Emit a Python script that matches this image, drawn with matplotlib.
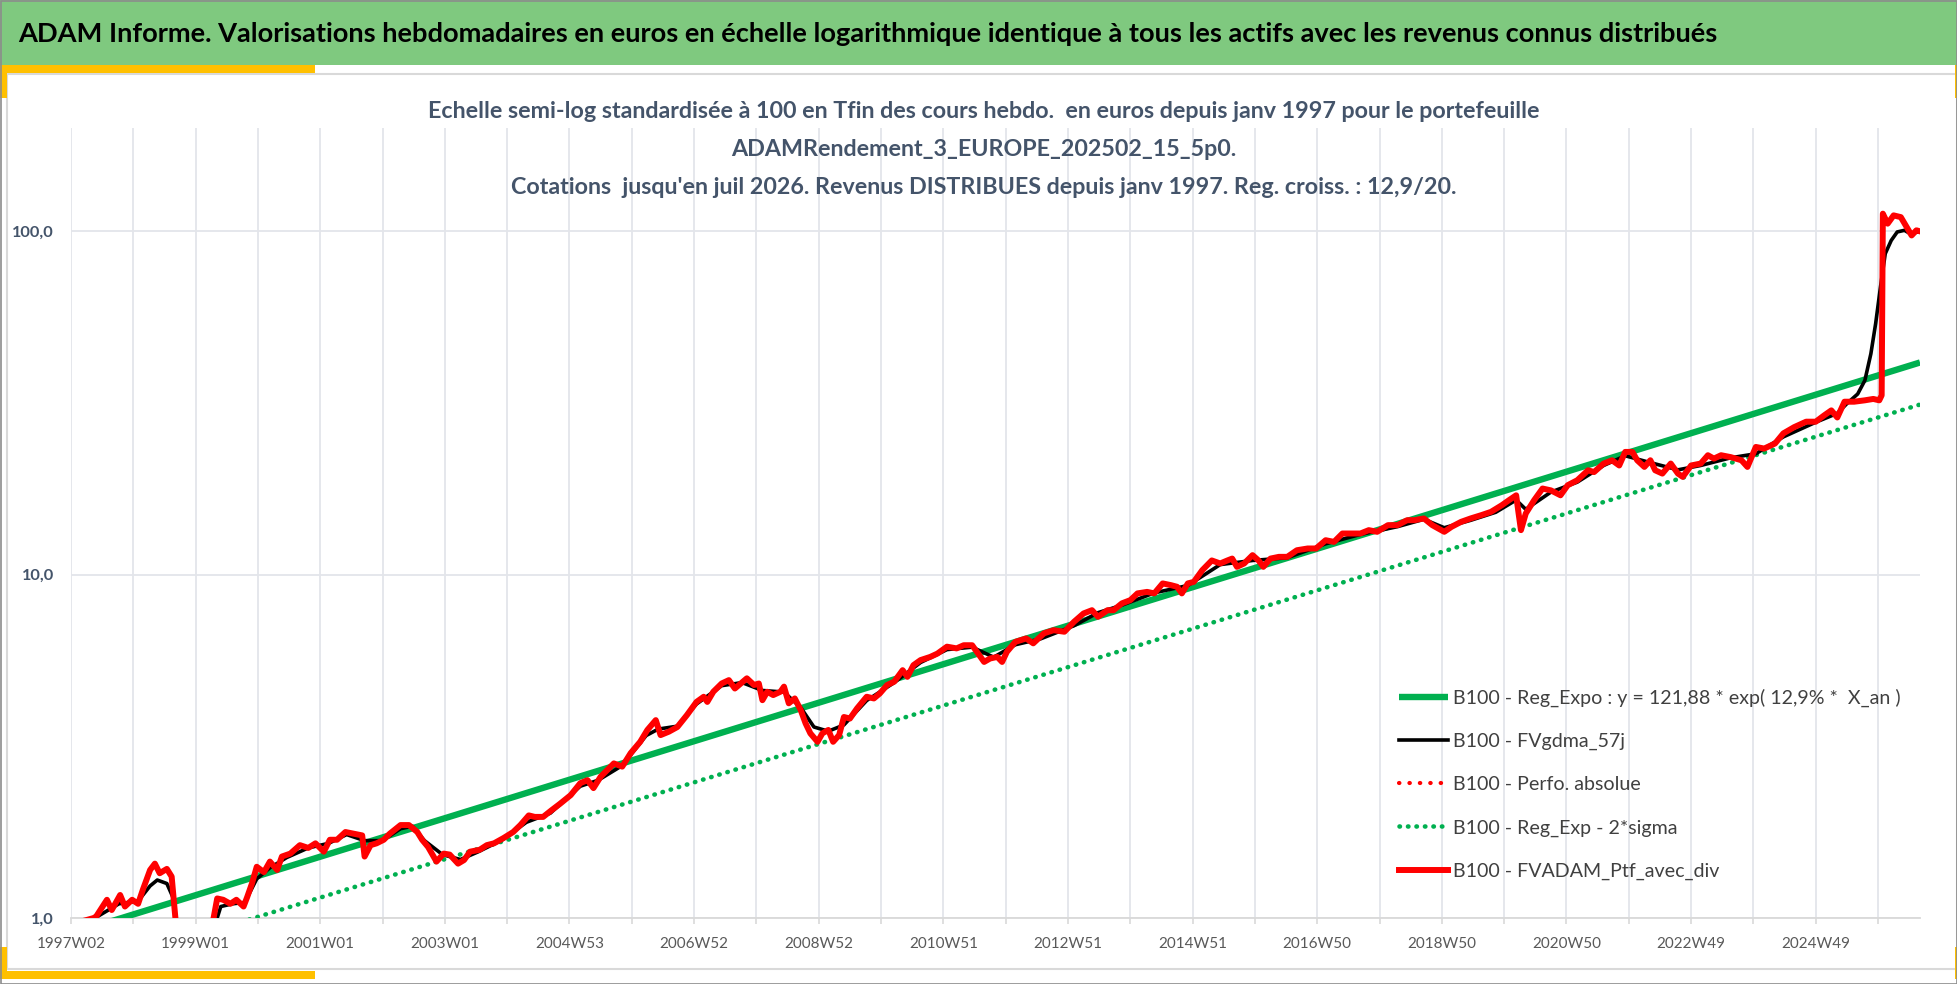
import matplotlib
matplotlib.use('Agg')
import matplotlib.pyplot as plt
from matplotlib import font_manager
from matplotlib.patches import Rectangle
from matplotlib.ticker import FixedLocator, NullLocator

W, H, DPI = 1958, 984, 100

# weekly index (0 = 1997W02) and values, base 100 at the end
red_weeks = [0, 10, 19, 21, 30, 34, 41, 45, 51, 56, 60, 66, 70, 74, 80, 84, 87, 90, 100, 110, 117,
             119, 122, 127, 133, 138, 144, 147, 151, 155, 161, 166, 172, 176, 183, 191, 198, 204, 211,
             216, 222, 229, 236, 243, 245, 250, 255, 261, 266, 275, 282, 289, 293, 298, 305, 311, 316,
             323, 328, 333, 341, 347, 353, 361, 369, 375, 382, 387, 394, 401, 408, 417, 425, 431, 436,
             442, 453, 460, 467, 475, 481, 488, 492, 499, 506, 514, 522, 528, 531, 536, 543, 549, 554,
             559, 564, 570, 574, 577, 581, 586, 592, 595, 599, 604, 609, 613, 617, 623, 627, 632, 636,
             641, 645, 650, 656, 664, 670, 675, 681, 687, 694, 698, 703, 709, 717, 723, 731, 739, 745,
             752, 756, 762, 767, 773, 777, 781, 788, 797, 803, 812, 820, 829, 837, 845, 852, 857, 865,
             870, 877, 884, 890, 898, 904, 911, 918, 923, 927, 932, 937, 944, 952, 959, 965, 969, 973,
             979, 986, 991, 995, 1001, 1008, 1015, 1023, 1032, 1039, 1047, 1054, 1061, 1069, 1076, 1083,
             1090, 1099, 1107, 1115, 1121, 1129, 1136, 1146, 1152, 1160, 1168, 1177, 1185, 1194, 1200,
             1206, 1208, 1210, 1214, 1221, 1228, 1235, 1243, 1249, 1257, 1266, 1271, 1279, 1286, 1292,
             1297, 1303, 1307, 1313, 1318, 1322, 1328, 1335, 1341, 1345, 1352, 1360, 1366, 1371, 1377,
             1385, 1394, 1399, 1406, 1413, 1422, 1429, 1438, 1448, 1456, 1463, 1469, 1474, 1480, 1488,
             1497, 1504, 1509, 1511, 1512, 1516, 1521, 1527, 1531, 1536, 1540, 1543]
red_vals = [0.96, 0.98, 1.00, 1.01, 1.13, 1.055, 1.167, 1.08, 1.13, 1.10, 1.21, 1.38, 1.44, 1.35, 1.39,
            1.32, 1.01, 0.80, 0.70, 0.72, 0.90,
            1.00, 1.14, 1.13, 1.10, 1.13, 1.08, 1.15, 1.26, 1.41, 1.36, 1.46, 1.38, 1.51, 1.54, 1.63,
            1.60, 1.65, 1.56,
            1.69, 1.69, 1.78, 1.76, 1.74, 1.51, 1.63, 1.65, 1.69, 1.76, 1.865, 1.865, 1.78, 1.69, 1.61,
            1.46, 1.54, 1.53,
            1.44, 1.475, 1.56, 1.58, 1.63, 1.65, 1.71, 1.78, 1.865, 1.99, 1.97, 1.97, 2.06, 2.15, 2.28,
            2.47, 2.52, 2.39,
            2.58, 2.82, 2.76, 3.02, 3.26, 3.53, 3.77, 3.41, 3.49, 3.60, 3.90, 4.26, 4.41, 4.26, 4.56,
            4.82, 4.93, 4.66,
            4.82, 4.99, 4.77, 4.82, 4.31, 4.56, 4.46, 4.56, 4.72, 4.22, 4.36, 4.03, 3.69, 3.45, 3.26,
            3.45, 3.53, 3.26,
            3.41, 3.85, 3.81, 4.08, 4.41, 4.36, 4.51, 4.77, 4.88, 5.27, 5.04, 5.45, 5.64, 5.76, 5.89,
            6.17, 6.10, 6.23,
            6.23, 5.96, 5.57, 5.70, 5.76, 5.57, 5.96, 6.37, 6.52, 6.31, 6.75, 6.89, 6.82, 7.29, 7.71,
            7.88, 7.54, 7.88,
            7.88, 8.25, 8.43, 8.82, 8.91, 8.82, 9.43, 9.32, 9.22, 8.82, 9.43, 9.53, 10.3, 11.0, 10.78,
            11.0, 11.14, 10.54,
            10.78, 11.40, 11.0, 10.54, 11.14, 11.27, 11.27, 11.78, 11.92, 11.92, 12.60, 12.46, 13.18,
            13.18, 13.18, 13.48,
            13.33, 13.94, 13.94, 14.41, 14.41, 14.58, 13.94, 13.33, 13.78, 14.25, 14.58, 14.91, 15.24,
            15.93, 16.48,
            17.03, 15.10, 13.48, 15.07, 16.48, 17.82, 17.60, 17.03, 18.22, 18.84, 20.14, 19.90, 21.07,
            21.54, 20.80,
            22.78, 22.78, 21.54, 20.60, 21.54, 20.14, 19.70, 21.07, 19.70, 19.27, 20.80, 21.07, 22.28,
            21.78, 22.28,
            22.00, 21.54, 20.60, 23.55, 23.30, 24.10, 25.80, 26.90, 27.90, 27.90, 29.10, 30.10, 28.70,
            31.90, 31.90,
            32.20, 32.50, 32.20, 33.30, 112.6, 105.3, 111.3, 110.0, 104.1, 97.3, 100.7, 100.0]

avg_weeks = [0, 20, 40, 56, 66, 72, 80, 85, 88, 95, 110, 120, 125, 135, 145, 155, 166, 180, 198, 215,
             230, 245, 260, 275, 285, 295, 310, 325, 340, 360, 380, 400, 425, 440, 460, 480, 490, 506,
             522, 543, 560, 577, 595, 609, 620, 632, 645, 664, 687, 709, 731, 752, 770, 788, 809, 837,
             857, 877, 904, 932, 959, 986, 1015, 1047, 1076, 1107, 1129, 1146, 1168, 1189, 1206, 1214,
             1235, 1257, 1279, 1297, 1318, 1341, 1360, 1385, 1406, 1429, 1456, 1474, 1482, 1491, 1497,
             1502, 1506, 1510, 1514, 1519, 1524, 1530, 1535, 1543]
avg_vals = [0.93, 1.0, 1.10, 1.12, 1.24, 1.29, 1.26, 1.15, 0.95, 0.80, 0.75, 0.95, 1.08, 1.10, 1.11,
            1.30, 1.40, 1.50, 1.60, 1.65,
            1.75, 1.68, 1.68, 1.82, 1.85, 1.68, 1.53, 1.48, 1.56, 1.69, 1.90, 2.02, 2.42, 2.52, 2.78,
            3.40, 3.55, 3.62,
            4.20, 4.75, 4.85, 4.60, 4.55, 4.10, 3.60, 3.50, 3.65, 4.30, 4.85, 5.55, 6.05, 6.15, 5.75,
            6.25, 6.50, 7.10,
            7.75, 8.15, 8.85, 9.30, 10.7, 11.0, 11.2, 12.3, 13.1, 13.8, 14.5, 13.7, 14.4, 15.2, 16.5,
            15.5,
            17.4, 18.6, 20.8, 22.2, 21.2, 20.2, 20.8, 21.9, 22.5, 25.2, 27.8, 29.5, 31.5, 33.6, 36.8,
            44.0, 53.9, 68.8, 86.1, 94.1, 99.6, 100.7, 98.4, 100.0]

# regression line and regression - 2 sigma, first and last week
reg_weeks = [0, 1543]
reg_vals = [0.90, 41.5]
sigma_vals = [0.685, 31.3]

label_weeks = list(range(0, 1457, 104))
x_labels = ['1997W02', '1999W01', '2001W01', '2003W01', '2004W53', '2006W52', '2008W52', '2010W51',
            '2012W51', '2014W51', '2016W50', '2018W50', '2020W50', '2022W49', '2024W49']
y_ticks = [1, 10, 100]
y_labels = ['1,0', '10,0', '100,0']

legend_labels = ['B100 - Reg_Expo : y = 121,88 * exp( 12,9% *  X_an )',
                 'B100 - FVgdma_57j',
                 'B100 - Perfo. absolue',
                 'B100 - Reg_Exp - 2*sigma',
                 'B100 - FVADAM_Ptf_avec_div']

title = ("ADAM Informe. Valorisations hebdomadaires en euros en échelle logarithmique "
         "identique à tous les actifs avec les revenus connus distribués")
sub1 = "Echelle semi-log standardisée à 100 en Tfin des cours hebdo.  en euros depuis janv 1997 pour le portefeuille"
sub2 = "ADAMRendement_3_EUROPE_202502_15_5p0."
sub3 = "Cotations  jusqu'en juil 2026. Revenus DISTRIBUES depuis janv 1997. Reg. croiss. : 12,9/20."

names = {f.name for f in font_manager.fontManager.ttflist}
FONT = 'Liberation Sans Narrow' if 'Liberation Sans Narrow' in names else 'Lato'
plt.rcParams['font.family'] = [FONT, 'DejaVu Sans']

GREEN = '#00B050'
RED = '#FF0000'
SLATE = '#44546A'
GRID = '#E3E5EA'

fig = plt.figure(figsize=(W / DPI, H / DPI), dpi=DPI)
fig.patch.set_facecolor('white')
renderer = fig.canvas.get_renderer()


def rect(x0, y0, x1, y1, **kw):
    # pixel box, measured from the top-left corner
    r = Rectangle((x0 / W, 1 - y1 / H), (x1 - x0) / W, (y1 - y0) / H,
                  transform=fig.transFigure, **kw)
    fig.add_artist(r)
    return r


def size_for(s, target, weight='normal'):
    t = fig.text(0, 0, s, fontsize=10, fontweight=weight)
    w = t.get_window_extent(renderer).width
    t.remove()
    return 10 * target / w


# frame of the picture
rect(0, 0, W, 65, facecolor='#7FC97F', edgecolor='none')
rect(7, 74, 1957, 969, fill=False, edgecolor='#D9D9D9', lw=1.5)
for box in [(0, 65, 315, 73), (0, 65, 7, 98), (0, 947, 7, 979), (0, 971, 315, 979),
            (1955, 65, 1958, 98), (1955, 947, 1958, 979)]:
    rect(*box, facecolor='#FFC000', edgecolor='none')
rect(0.5, 0.5, W - 0.5, H - 0.5, fill=False, edgecolor='#8C8C8C', lw=1.2)

t = fig.text(18 / W, 1 - 34 / H, title, fontsize=20, fontweight='bold', color='black',
             ha='left', va='center')
t.set_fontsize(size_for(title, 1710, 'bold'))

fs_sub = size_for(sub1, 1116, 'bold')
for s, y in [(sub1, 112), (sub2, 150), (sub3, 187)]:
    fig.text(984 / W, 1 - y / H, s, fontsize=fs_sub, fontweight='bold', color=SLATE,
             ha='center', va='center')

ax = fig.add_axes([71 / W, 1 - 918 / H, (1920 - 71) / W, (918 - 128) / H])
ax.set_facecolor('none')
ax.set_yscale('log')
ax.set_ylim(1, 200)
ax.set_xlim(0, 1543)

ax.plot(reg_weeks, reg_vals, color=GREEN, lw=4.6, solid_capstyle='butt', label=legend_labels[0], zorder=3)
ax.plot(avg_weeks, avg_vals, color='black', lw=2.6, label=legend_labels[1], zorder=4)
ax.plot(red_weeks, red_vals, color=RED, lw=3.0, linestyle=(0, (0.1, 2.4)), dash_capstyle='round',
        label=legend_labels[2], zorder=4)
ax.plot(reg_weeks, sigma_vals, color=GREEN, lw=3.3, linestyle=(0, (0.1, 1.75)), dash_capstyle='round',
        label=legend_labels[3], zorder=3)
ax.plot(red_weeks, red_vals, color=RED, lw=4.3, solid_joinstyle='round', label=legend_labels[4], zorder=5)

ax.xaxis.set_major_locator(FixedLocator(list(range(0, 1543, 52))))
ax.set_xticklabels([x_labels[label_weeks.index(w)] if w in label_weeks else ''
                    for w in range(0, 1543, 52)])
ax.yaxis.set_major_locator(FixedLocator(y_ticks))
ax.yaxis.set_minor_locator(NullLocator())
ax.set_yticklabels(y_labels)
ax.grid(True, color=GRID, lw=1.3, zorder=0)
ax.set_axisbelow(True)
for side in ['top', 'right', 'left']:
    ax.spines[side].set_visible(False)
ax.spines['bottom'].set_color('#D9D9D9')
ax.spines['bottom'].set_linewidth(1.3)

ax.tick_params(axis='x', length=4.3, width=1.2, color='#D9D9D9', labelcolor='#595959',
               labelsize=size_for('1997W02', 69), pad=9.5)
ax.tick_params(axis='y', length=0, labelcolor=SLATE, labelsize=size_for('100,0', 42, 'bold'), pad=12.2)
for lab in ax.get_yticklabels():
    lab.set_fontweight('bold')

# legend, placed by pixel measures
fs_leg = size_for(legend_labels[0], 448)
fs_px = fs_leg * DPI / 72


def make_legend(spacing, top):
    lg = ax.legend(loc='upper left', bbox_to_anchor=(1399 / W, 1 - top / H),
                   bbox_transform=fig.transFigure, frameon=False, fontsize=fs_leg,
                   handlelength=49 / fs_px, handletextpad=5 / fs_px, labelspacing=spacing,
                   borderpad=0, borderaxespad=0, labelcolor='#404040')
    fig.canvas.draw()
    return lg


def text_centres(lg):
    out = []
    for tx in lg.get_texts():
        b = tx.get_window_extent(renderer)
        out.append(H - (b.y0 + b.y1) / 2)
    return out


leg = make_legend(0.5, 680)
yc = text_centres(leg)
pitch = (yc[-1] - yc[0]) / 4
spacing = 0.5 + (43.3 - pitch) / fs_px
leg = make_legend(spacing, 680)
yc = text_centres(leg)
leg = make_legend(spacing, 680 + (698 - yc[0]))

fig.savefig('out.png', dpi=DPI, facecolor='white')
